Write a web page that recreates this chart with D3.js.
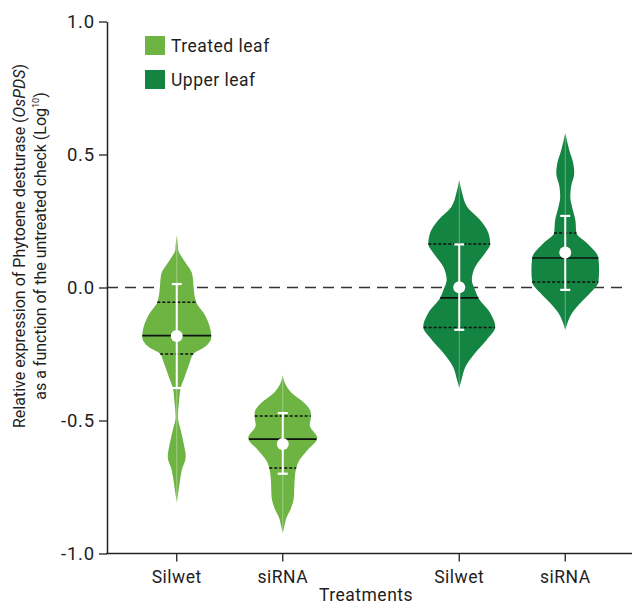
<!DOCTYPE html>
<html>
<head>
<meta charset="utf-8">
<script src="https://cdn.jsdelivr.net/npm/d3@7"></script>
<style>
  html, body { margin: 0; padding: 0; background: #fff; }
  svg { display: block; font-family: Roboto, "Noto Sans", sans-serif; }
</style>
</head>
<body>
<svg id="chart" width="632" height="605"></svg>
<script>
// Groups (leaf position) and treatments within each group
const groups = ["Treated leaf", "Upper leaf"];
const treatments = ["Silwet", "siRNA"];
const groupColors = ["#6db443", "#138441"];

// Y tick values
const yTicks = [-1.0, -0.5, 0.0, 0.5, 1.0];

// Kernel density outlines: [log10 expression, relative density]
const densTreatedSilwet = [
  [0.197, 0], [0.160, 0.03], [0.141, 0.04], [0.115, 0.14], [0.092, 0.25],
  [0.055, 0.42], [0.017, 0.46], [-0.002, 0.47], [-0.055, 0.54], [-0.096, 0.75],
  [-0.160, 0.94], [-0.186, 0.96], [-0.224, 0.78], [-0.250, 0.46], [-0.283, 0.36],
  [-0.336, 0.22], [-0.377, 0.11], [-0.434, 0.06], [-0.487, 0.03], [-0.536, 0.11],
  [-0.585, 0.19], [-0.637, 0.25], [-0.686, 0.14], [-0.735, 0.08], [-0.810, 0]
];
const densTreatedSiRNA = [
  [-0.329, 0], [-0.359, 0.06], [-0.397, 0.25], [-0.434, 0.60], [-0.472, 0.78],
  [-0.487, 0.78], [-0.517, 0.75], [-0.566, 0.96], [-0.611, 0.69], [-0.648, 0.47],
  [-0.679, 0.375], [-0.724, 0.33], [-0.788, 0.31], [-0.836, 0.21], [-0.863, 0.11],
  [-0.900, 0.04], [-0.923, 0]
];
const densUpperSilwet = [
  [0.404, 0], [0.355, 0.08], [0.303, 0.22], [0.254, 0.58], [0.205, 0.81],
  [0.164, 0.86], [0.130, 0.72], [0.077, 0.44], [0.028, 0.35], [-0.009, 0.44],
  [-0.039, 0.53], [-0.096, 0.86], [-0.148, 1.00], [-0.197, 0.76], [-0.246, 0.44],
  [-0.299, 0.17], [-0.348, 0.06], [-0.378, 0]
];
const densUpperSiRNA = [
  [0.581, 0], [0.517, 0.11], [0.468, 0.22], [0.430, 0.25], [0.378, 0.16],
  [0.340, 0.14], [0.303, 0.19], [0.254, 0.28], [0.205, 0.31], [0.167, 0.60],
  [0.111, 0.92], [0.066, 0.94], [0.021, 0.92], [-0.021, 0.69], [-0.058, 0.42],
  [-0.096, 0.19], [-0.133, 0.06], [-0.160, 0]
];

// Summary statistics per violin
const medians   = [-0.181, -0.570, -0.039, 0.111];
const quartile3 = [-0.055, -0.483, 0.164, 0.205];
const quartile1 = [-0.250, -0.679, -0.150, 0.021];
const means     = [-0.182, -0.588, 0.001, 0.132];
const errLow    = [-0.378, -0.700, -0.159, -0.009];
const errHigh   = [0.013, -0.472, 0.162, 0.269];

const densities = [densTreatedSilwet, densTreatedSiRNA, densUpperSilwet, densUpperSiRNA];
const violinGroup = [0, 0, 1, 1];
const violinTreatment = [0, 1, 0, 1];

const svg = d3.select("#chart");
const axisColor = "#222";
const textColor = "#1e1e1e";

// Scales
const y = d3.scaleLinear().domain([-1, 1]).range([553.5, 21.5]);
const xGroup = d3.scaleBand().domain(groups).range([107, 635])
  .paddingInner(0.2).paddingOuter(0.0345);
const xTreat = d3.scaleBand().domain(treatments).range([0, xGroup.bandwidth()])
  .paddingInner(0.4).paddingOuter(0.266);
const w = d3.scaleLinear().domain([0, 1]).range([0, 36]);

const cx = i => xGroup(groups[violinGroup[i]]) + xTreat(treatments[violinTreatment[i]]) + xTreat.bandwidth() / 2;

// Zero reference line
svg.append("line")
  .attr("x1", 107).attr("x2", 622)
  .attr("y1", y(0)).attr("y2", y(0))
  .attr("stroke", "#333").attr("stroke-width", 1.5)
  .attr("stroke-dasharray", "11,7");

// Violins
densities.forEach((dens, i) => {
  const c = cx(i);
  const g = svg.append("g");
  const area = d3.area()
    .curve(d3.curveMonotoneY)
    .y(d => y(d[0]))
    .x0(d => c - w(d[1]))
    .x1(d => c + w(d[1]));
  g.append("path")
    .datum(dens)
    .attr("d", area)
    .attr("fill", groupColors[violinGroup[i]]);

  // width of the violin at a given value (for quartile / median lines)
  const sorted = dens.slice().sort((a, b) => a[0] - b[0]);
  const widthAt = d3.scaleLinear().domain(sorted.map(d => d[0])).range(sorted.map(d => w(d[1])));

  // faint centre line through the whole violin
  g.append("line")
    .attr("x1", c).attr("x2", c)
    .attr("y1", y(d3.max(dens, d => d[0]))).attr("y2", y(d3.min(dens, d => d[0])))
    .attr("stroke", "#fff").attr("stroke-opacity", 0.35).attr("stroke-width", 1);

  [quartile3[i], quartile1[i]].forEach(q => {
    g.append("line")
      .attr("x1", c - widthAt(q)).attr("x2", c + widthAt(q))
      .attr("y1", y(q)).attr("y2", y(q))
      .attr("stroke", "#111").attr("stroke-width", 1.5)
      .attr("stroke-dasharray", "3,2");
  });
  g.append("line")
    .attr("x1", c - widthAt(medians[i])).attr("x2", c + widthAt(medians[i]))
    .attr("y1", y(medians[i])).attr("y2", y(medians[i]))
    .attr("stroke", "#111").attr("stroke-width", 1.6);

  // mean ± error bar
  g.append("line")
    .attr("x1", c).attr("x2", c)
    .attr("y1", y(errHigh[i])).attr("y2", y(errLow[i]))
    .attr("stroke", "#fff").attr("stroke-width", 2);
  [errHigh[i], errLow[i]].forEach(v => {
    g.append("line")
      .attr("x1", c - 5).attr("x2", c + 5)
      .attr("y1", y(v)).attr("y2", y(v))
      .attr("stroke", "#fff").attr("stroke-width", 2.2);
  });
  g.append("circle")
    .attr("cx", c).attr("cy", y(means[i])).attr("r", 6)
    .attr("fill", "#fff");
});

// Y axis
const yAxis = svg.append("g")
  .attr("transform", "translate(107,0)")
  .call(d3.axisLeft(y).tickValues(yTicks).tickFormat(d3.format(".1f")).tickSize(8).tickSizeOuter(0).tickPadding(4));
yAxis.select(".domain").attr("stroke", axisColor).attr("stroke-width", 1.5);
yAxis.selectAll(".tick line").attr("stroke", axisColor).attr("stroke-width", 1.3);
yAxis.selectAll(".tick text")
  .attr("font-family", "Roboto, sans-serif").attr("font-size", 18.5).attr("fill", textColor)
  .attr("letter-spacing", 0.8)
  .text(d => d3.format(".1f")(d).replace("−", "-"));

// X axis
svg.append("line")
  .attr("x1", 106.25).attr("x2", 632)
  .attr("y1", y(-1)).attr("y2", y(-1))
  .attr("stroke", axisColor).attr("stroke-width", 1.5);
const xTicks = svg.append("g").selectAll("g")
  .data(d3.range(densities.length))
  .join("g")
  .attr("transform", i => `translate(${cx(i)},${y(-1)})`);
xTicks.append("line").attr("y1", 0).attr("y2", 8)
  .attr("stroke", axisColor).attr("stroke-width", 1.3);
xTicks.append("text")
  .attr("y", 29).attr("text-anchor", "middle")
  .attr("font-size", 17.5).attr("letter-spacing", 0.5).attr("fill", textColor)
  .text(i => treatments[violinTreatment[i]]);

svg.append("text")
  .attr("x", 366).attr("y", 601).attr("text-anchor", "middle")
  .attr("font-size", 17.5).attr("letter-spacing", 0.5).attr("fill", textColor)
  .text("Treatments");

// Y axis title (two lines, rotated)
const yTitle = svg.append("g").attr("transform", "translate(0,246) rotate(-90)");
const t1 = yTitle.append("text").attr("x", 0).attr("y", 24.5)
  .attr("text-anchor", "middle").attr("font-size", 16).attr("fill", textColor);
t1.append("tspan").text("Relative expression of Phytoene desturase (");
t1.append("tspan").attr("font-style", "italic").text("OsPDS");
t1.append("tspan").text(")");
const t2 = yTitle.append("text").attr("x", 0).attr("y", 45.5)
  .attr("text-anchor", "middle").attr("font-size", 16).attr("fill", textColor);
t2.append("tspan").text("as a function of the untreated check (Log");
t2.append("tspan").attr("font-size", 9).attr("dy", -7).text("10");
t2.append("tspan").attr("dy", 7).text(")");

// Legend
const legend = svg.append("g").selectAll("g")
  .data(groups)
  .join("g")
  .attr("transform", (d, i) => `translate(145,${36 + i * 34})`);
legend.append("rect").attr("width", 20).attr("height", 19)
  .attr("fill", (d, i) => groupColors[i]);
legend.append("text").attr("x", 26).attr("y", 16)
  .attr("font-size", 17.5).attr("letter-spacing", 0.5).attr("fill", textColor)
  .text(d => d);
</script>
</body>
</html>
